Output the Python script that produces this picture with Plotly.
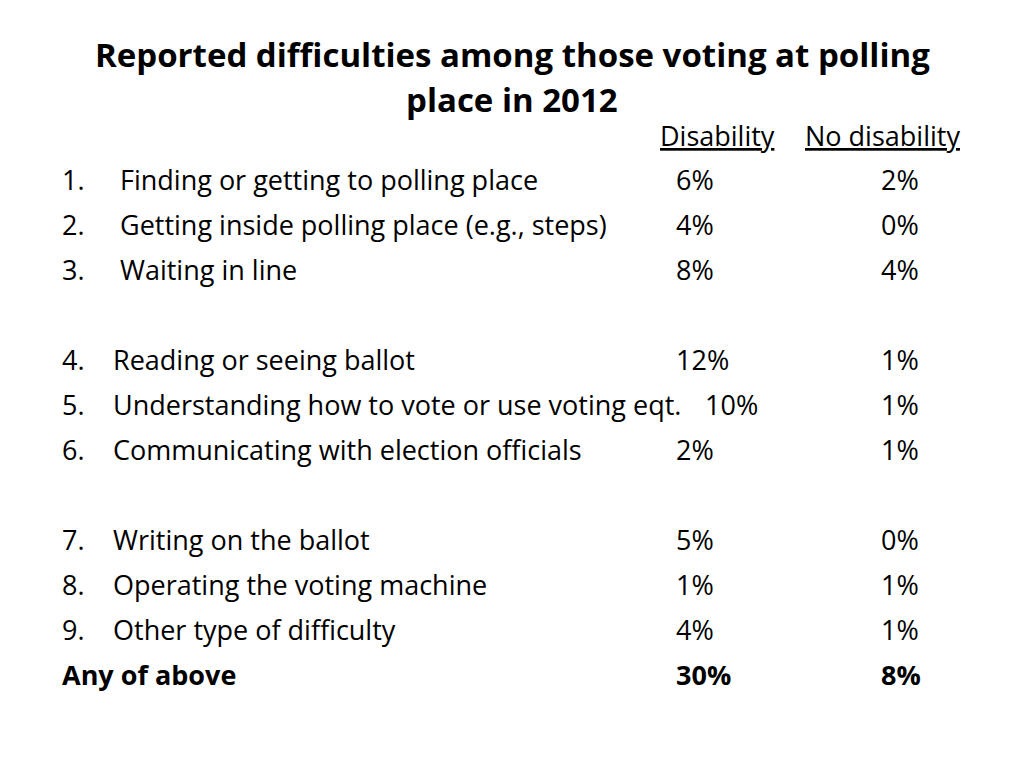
import plotly.graph_objects as go

title_lines = ["Reported difficulties among those voting at polling", "place in 2012"]
col_headers = ["Disability", "No disability"]
row_numbers = ["1.", "2.", "3.", "4.", "5.", "6.", "7.", "8.", "9.", ""]
row_labels = [
    "Finding or getting to polling place",
    "Getting inside polling place (e.g., steps)",
    "Waiting in line",
    "Reading or seeing ballot",
    "Understanding how to vote or use voting eqt.",
    "Communicating with election officials",
    "Writing on the ballot",
    "Operating the voting machine",
    "Other type of difficulty",
    "Any of above",
]
disability = ["6%", "4%", "8%", "12%", "10%", "2%", "5%", "1%", "4%", "30%"]
no_disability = ["2%", "0%", "4%", "1%", "1%", "1%", "0%", "1%", "1%", "8%"]

FONT = "Open Sans"
fs = 27
tfs = 33
row_y = [179, 224, 269, 359, 404, 449, 539, 584, 629, 674]

fig = go.Figure()
ann = []
ann.append(dict(x=512, y=54, text="<b>" + title_lines[0] + "</b>", xanchor="center", yanchor="middle",
                font=dict(size=tfs, family=FONT, color="black")))
ann.append(dict(x=512, y=99, text="<b>" + title_lines[1] + "</b>", xanchor="center", yanchor="middle",
                font=dict(size=tfs, family=FONT, color="black")))
ann.append(dict(x=717, y=135, text="<u>" + col_headers[0] + "</u>", xanchor="center", yanchor="middle",
                font=dict(size=fs, family=FONT, color="black")))
ann.append(dict(x=882, y=135, text="<u>" + col_headers[1] + "</u>", xanchor="center", yanchor="middle",
                font=dict(size=fs, family=FONT, color="black")))

for i, (num, lab, d, nd) in enumerate(zip(row_numbers, row_labels, disability, no_disability)):
    y = row_y[i]
    last = i == len(row_labels) - 1
    wrap = (lambda s: "<b>" + s + "</b>") if last else (lambda s: s)
    if last:
        ann.append(dict(x=62, y=y, text=wrap(lab), xanchor="left", yanchor="middle",
                        font=dict(size=fs, family=FONT, color="black")))
    else:
        ann.append(dict(x=62, y=y, text=num, xanchor="left", yanchor="middle",
                        font=dict(size=fs, family=FONT, color="black")))
        lx = 120 if i < 3 else 113
        ann.append(dict(x=lx, y=y, text=lab, xanchor="left", yanchor="middle",
                        font=dict(size=fs, family=FONT, color="black")))
    dx = 705 if i == 4 else 676
    ann.append(dict(x=dx, y=y, text=wrap(d), xanchor="left", yanchor="middle",
                    font=dict(size=fs, family=FONT, color="black")))
    ann.append(dict(x=881, y=y, text=wrap(nd), xanchor="left", yanchor="middle",
                    font=dict(size=fs, family=FONT, color="black")))

for a in ann:
    a.update(xref="x", yref="y", showarrow=False, borderpad=0)
    if a["xanchor"] == "left":
        a["x"] = a["x"] - 1

# page body has an 8px margin: size the figure to the remaining area and map page pixels
OFF = 8
fig.update_layout(
    width=1024 - 2 * OFF, height=768 - 2 * OFF,
    margin=dict(l=0, r=0, t=0, b=0),
    paper_bgcolor="white", plot_bgcolor="white",
    xaxis=dict(range=[OFF, 1024 - OFF], visible=False, fixedrange=True),
    yaxis=dict(range=[768 - OFF, OFF], visible=False, fixedrange=True),
    annotations=ann,
    showlegend=False,
)
fig.write_html("out.html")
